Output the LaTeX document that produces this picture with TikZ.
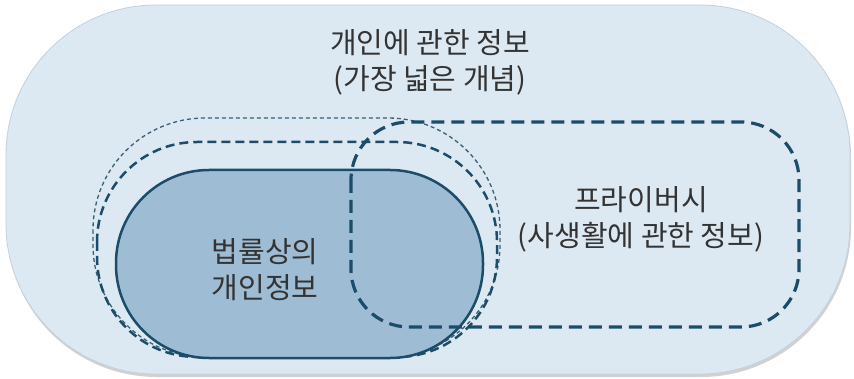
\documentclass[tikz,border=0pt]{standalone}
\usepackage{fontspec}
\newfontfamily\kr{Noto Sans CJK KR}
\definecolor{outerfill}{HTML}{DDE9F2}
\definecolor{outerline}{HTML}{C3D1DC}
\definecolor{innerfill}{HTML}{9EBCD3}
\definecolor{teal}{HTML}{1B4D6B}
\definecolor{thinline}{HTML}{3A5E76}
\definecolor{txt}{HTML}{333333}
\begin{document}
\begin{tikzpicture}[x=1pt,y=-1pt,
  lbl/.style={font=\kr\fontsize{29}{36}\selectfont, text=txt, align=center, inner sep=0pt},
  thindash/.style={draw=thinline, line width=1.3pt, dash pattern=on 4pt off 3pt},
  meddash/.style={draw=teal, line width=2.5pt, dash pattern=on 9pt off 5pt},
  bigdash/.style={draw=teal, line width=3.2pt, dash pattern=on 13pt off 7pt},
  solidbox/.style={draw=teal, line width=2.5pt, fill=innerfill}]
\useasboundingbox (0,0) rectangle (854,379);
\fill[white] (0,0) rectangle (854,379);
% shadow and outer region
\fill[black!18, rounded corners=150pt] (7,8) rectangle (851,377);
\filldraw[fill=outerfill, draw=outerline, line width=0.8pt, rounded corners=150pt] (6,5) rectangle (850,374);
% dashed outlines behind the legal personal information shape
\draw[thindash, rounded corners=112pt] (93,118) rectangle (500,357);
\draw[meddash, rounded corners=100pt] (97,142) rectangle (497,357);
% legal personal information
\draw[solidbox, rounded corners=93pt] (116,170) rectangle (483,358);
% privacy
\draw[bigdash, rounded corners=58pt] (351,122) rectangle (799,327);
% texts
\node[lbl] (broad) at (430,62) {개인에 관한 정보\\(가장 넓은 개념)};
\node[lbl] (legal) at (265,270) {법률상의\\개인정보};
\node[lbl] (priv) at (641,219) {프라이버시\\(사생활에 관한 정보)};
\end{tikzpicture}
\end{document}
